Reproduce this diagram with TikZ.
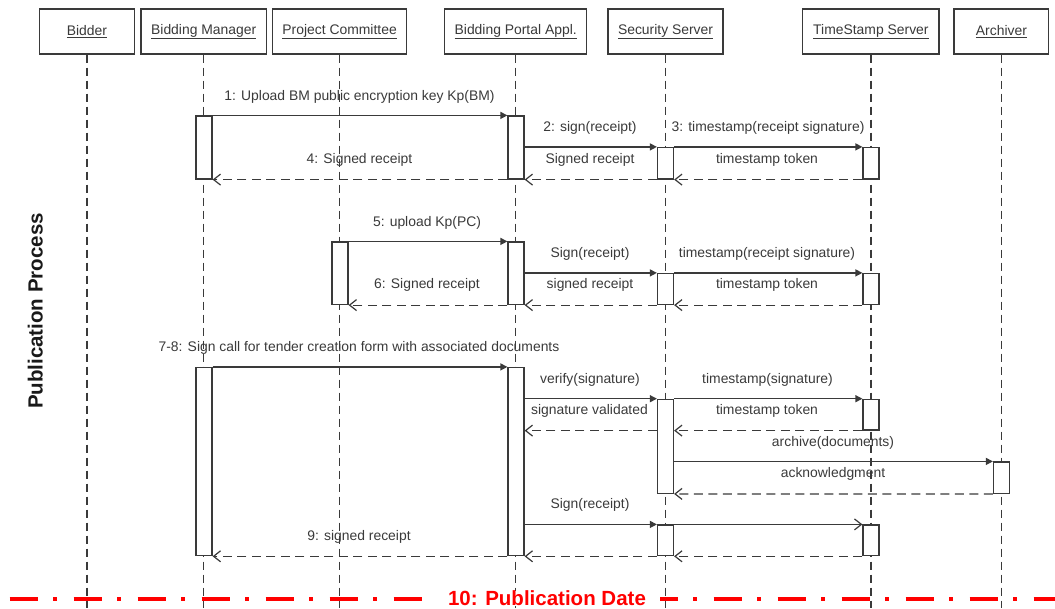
\documentclass[tikz,border=0pt]{standalone}
\usepackage{fontspec}
\setmainfont{Liberation Sans}
\usetikzlibrary{arrows.meta}
\definecolor{ink}{HTML}{3A3A3A}
\definecolor{datered}{HTML}{FF0000}
\begin{document}
\begin{tikzpicture}[x=1pt,y=-1pt,
  every node/.style={font=\fontsize{13.9}{16}\selectfont, text=ink},
  head/.style={draw=ink, line width=1.2pt, fill=white, minimum height=45pt, inner sep=0pt},
  life/.style={draw=ink, line width=1.2pt, dash pattern=on 8pt off 5pt},
  bar/.style={draw=ink, line width=1.2pt, fill=white, minimum width=16pt, inner sep=0pt},
  call/.style={draw=ink, line width=1.2pt, -{Triangle[length=7pt,width=7pt]}},
  callopen/.style={draw=ink, line width=1.2pt, -{Straight Barb[length=7pt,width=11pt]}},
  reply/.style={draw=ink, line width=1.2pt, dash pattern=on 9pt off 5.5pt, -{Straight Barb[length=7pt,width=11pt]}},
  lbl/.style={text height=10pt, text depth=3pt, inner sep=0pt},
  bigbold/.style={font=\fontsize{20.5}{24}\selectfont\bfseries, inner sep=0pt, text height=14.5pt, text depth=0pt},
  dateline/.style={draw=datered, line width=4pt, line cap=butt, dash pattern=on 28.5pt off 15pt on 3.5pt off 17pt},
]
\useasboundingbox (0,0) rectangle (1055,608);
\coordinate (bot) at (0,608);
\coordinate (dateL) at (9.5,599);
\coordinate (dateR) at (1055,599);

% publication date separator (drawn first, lifelines cross over it)
\draw[dateline] (dateL) -- (dateR);

% participants
\node[head, minimum width=94.6pt]  (hBid) at (86.9,31.5)  {\underline{Bidder}};
\node[head, minimum width=125.4pt] (hBM)  at (203.7,31.5) {\underline{Bidding Manager}};
\node[head, minimum width=134.2pt] (hPC)  at (339.6,31.5) {\underline{Project Committee}};
\node[head, minimum width=142pt]   (hBPA) at (515.7,31.5) {\underline{Bidding Portal Appl.}};
\node[head, minimum width=115pt]   (hSS)  at (665.5,31.5) {\underline{Security Server}};
\node[head, minimum width=136.3pt] (hTS)  at (870.9,31.5) {\underline{TimeStamp Server}};
\node[head, minimum width=94.7pt]  (hAR)  at (1001.4,31.5){\underline{Archiver}};

% lifelines
\foreach \h in {hBid,hBM,hPC,hBPA,hSS,hTS,hAR}
  \draw[life] (\h.south) -- (\h.south |- bot);

% activation bars
\node[bar, minimum height=63pt]    (bm1)  at (204,147.5)   {};
\node[bar, minimum height=63pt]    (bpa1) at (516,147.5)   {};
\node[bar, minimum height=31.5pt]  (ss1)  at (665.5,163.25){};
\node[bar, minimum height=31.5pt]  (ts1)  at (871,163.25)  {};

\node[bar, minimum height=62.5pt]  (pc2)  at (340,273.25)  {};
\node[bar, minimum height=62.5pt]  (bpa2) at (516,273.25)  {};
\node[bar, minimum height=31pt]    (ss2)  at (665.5,289)   {};
\node[bar, minimum height=31pt]    (ts2)  at (871,289)     {};

\node[bar, minimum height=188.2pt] (bm3)  at (204,461.6)   {};
\node[bar, minimum height=188.2pt] (bpa3) at (516,461.6)   {};
\node[bar, minimum height=94pt]    (ss3)  at (665.5,446.3) {};
\node[bar, minimum height=30.7pt]  (ts3)  at (871,414.65)  {};
\node[bar, minimum height=31.3pt]  (ar3)  at (1001.5,477.65){};
\node[bar, minimum height=30.7pt]  (ss4)  at (665.5,540.35){};
\node[bar, minimum height=30.7pt]  (ts4)  at (871,540.35)  {};

% block 1: BM key upload
\draw[call]  (bm1.north east) -- (bpa1.north west);
\draw[call]  (bpa1.east |- ss1.north) -- (ss1.north west);
\draw[call]  (ss1.north east) -- (ts1.north west);
\draw[reply] (ts1.south west) -- (ss1.south east);
\draw[reply] (ss1.south west) -- (bpa1.east |- ss1.south);
\draw[reply] (bpa1.south west) -- (bm1.south east);
\node[lbl] (l1)  at (359.5,97) {1: Upload BM public encryption key Kp(BM)};
\node[lbl] (l2)  at (590,128)  {2: sign(receipt)};
\node[lbl] (l3)  at (768,128)  {3: timestamp(receipt signature)};
\node[lbl] (l3r) at (767,160)  {timestamp token};
\node[lbl] (l2r) at (590,160)  {Signed receipt};
\node[lbl] (l4)  at (359.5,160){4: Signed receipt};

% block 2: PC key upload
\draw[call]  (pc2.north east) -- (bpa2.north west);
\draw[call]  (bpa2.east |- ss2.north) -- (ss2.north west);
\draw[call]  (ss2.north east) -- (ts2.north west);
\draw[reply] (ts2.south west) -- (ss2.south east);
\draw[reply] (ss2.south west) -- (bpa2.east |- ss2.south);
\draw[reply] (bpa2.south west) -- (pc2.south east);
\node[lbl] (l5)  at (427,222.5) {5: upload Kp(PC)};
\node[lbl] (l5a) at (590,254)   {Sign(receipt)};
\node[lbl] (l5b) at (767,254)   {timestamp(receipt signature)};
\node[lbl] (l5c) at (767,285)   {timestamp token};
\node[lbl] (l5d) at (590,285)   {signed receipt};
\node[lbl] (l6)  at (427,285)   {6: Signed receipt};

% block 3: call for tender
\draw[call]  (bm3.north east) -- (bpa3.north west);
\draw[call]  (bpa3.east |- ss3.north) -- (ss3.north west);
\draw[call]  (ss3.north east) -- (ts3.north west);
\draw[reply] (ts3.south west) -- (ss3.east |- ts3.south);
\draw[reply] (ss3.west |- ts3.south) -- (bpa3.east |- ts3.south);
\draw[call]  (ss3.east |- ar3.north) -- (ar3.north west);
\draw[reply] (ar3.south west) -- (ss3.south east);
\draw[call]  (bpa3.east |- ss4.north) -- (ss4.north west);
\draw[callopen] (ss4.north east) -- (ts4.north west);
\draw[reply] (ts4.south west) -- (ss4.south east);
\draw[reply] (ss4.south west) -- (bpa3.east |- ss4.south);
\draw[reply] (bpa3.south west) -- (bm3.south east);
\node[lbl] (l7)  at (359,348)   {7-8: Sign call for tender creation form with associated documents};
\node[lbl] (l7a) at (590,380)   {verify(signature)};
\node[lbl] (l7b) at (767.5,380) {timestamp(signature)};
\node[lbl] (l7c) at (767,410.7) {timestamp token};
\node[lbl] (l7d) at (589.5,410.7){signature validated};
\node[lbl] (l7e) at (833,442.7) {archive(documents)};
\node[lbl] (l7f) at (833,474)   {acknowledgment};
\node[lbl] (l8)  at (590,505)   {Sign(receipt)};
\node[lbl] (l9)  at (359,537)   {9: signed receipt};

% side title and date marker
\node[bigbold, rotate=90, text=black!90] (proc) at (35.3,311) {Publication Process};
\node[bigbold, text=datered, fill=white, minimum width=226pt, minimum height=14pt] (date) at (547,598.5) {10: Publication Date};
\end{tikzpicture}
\end{document}
